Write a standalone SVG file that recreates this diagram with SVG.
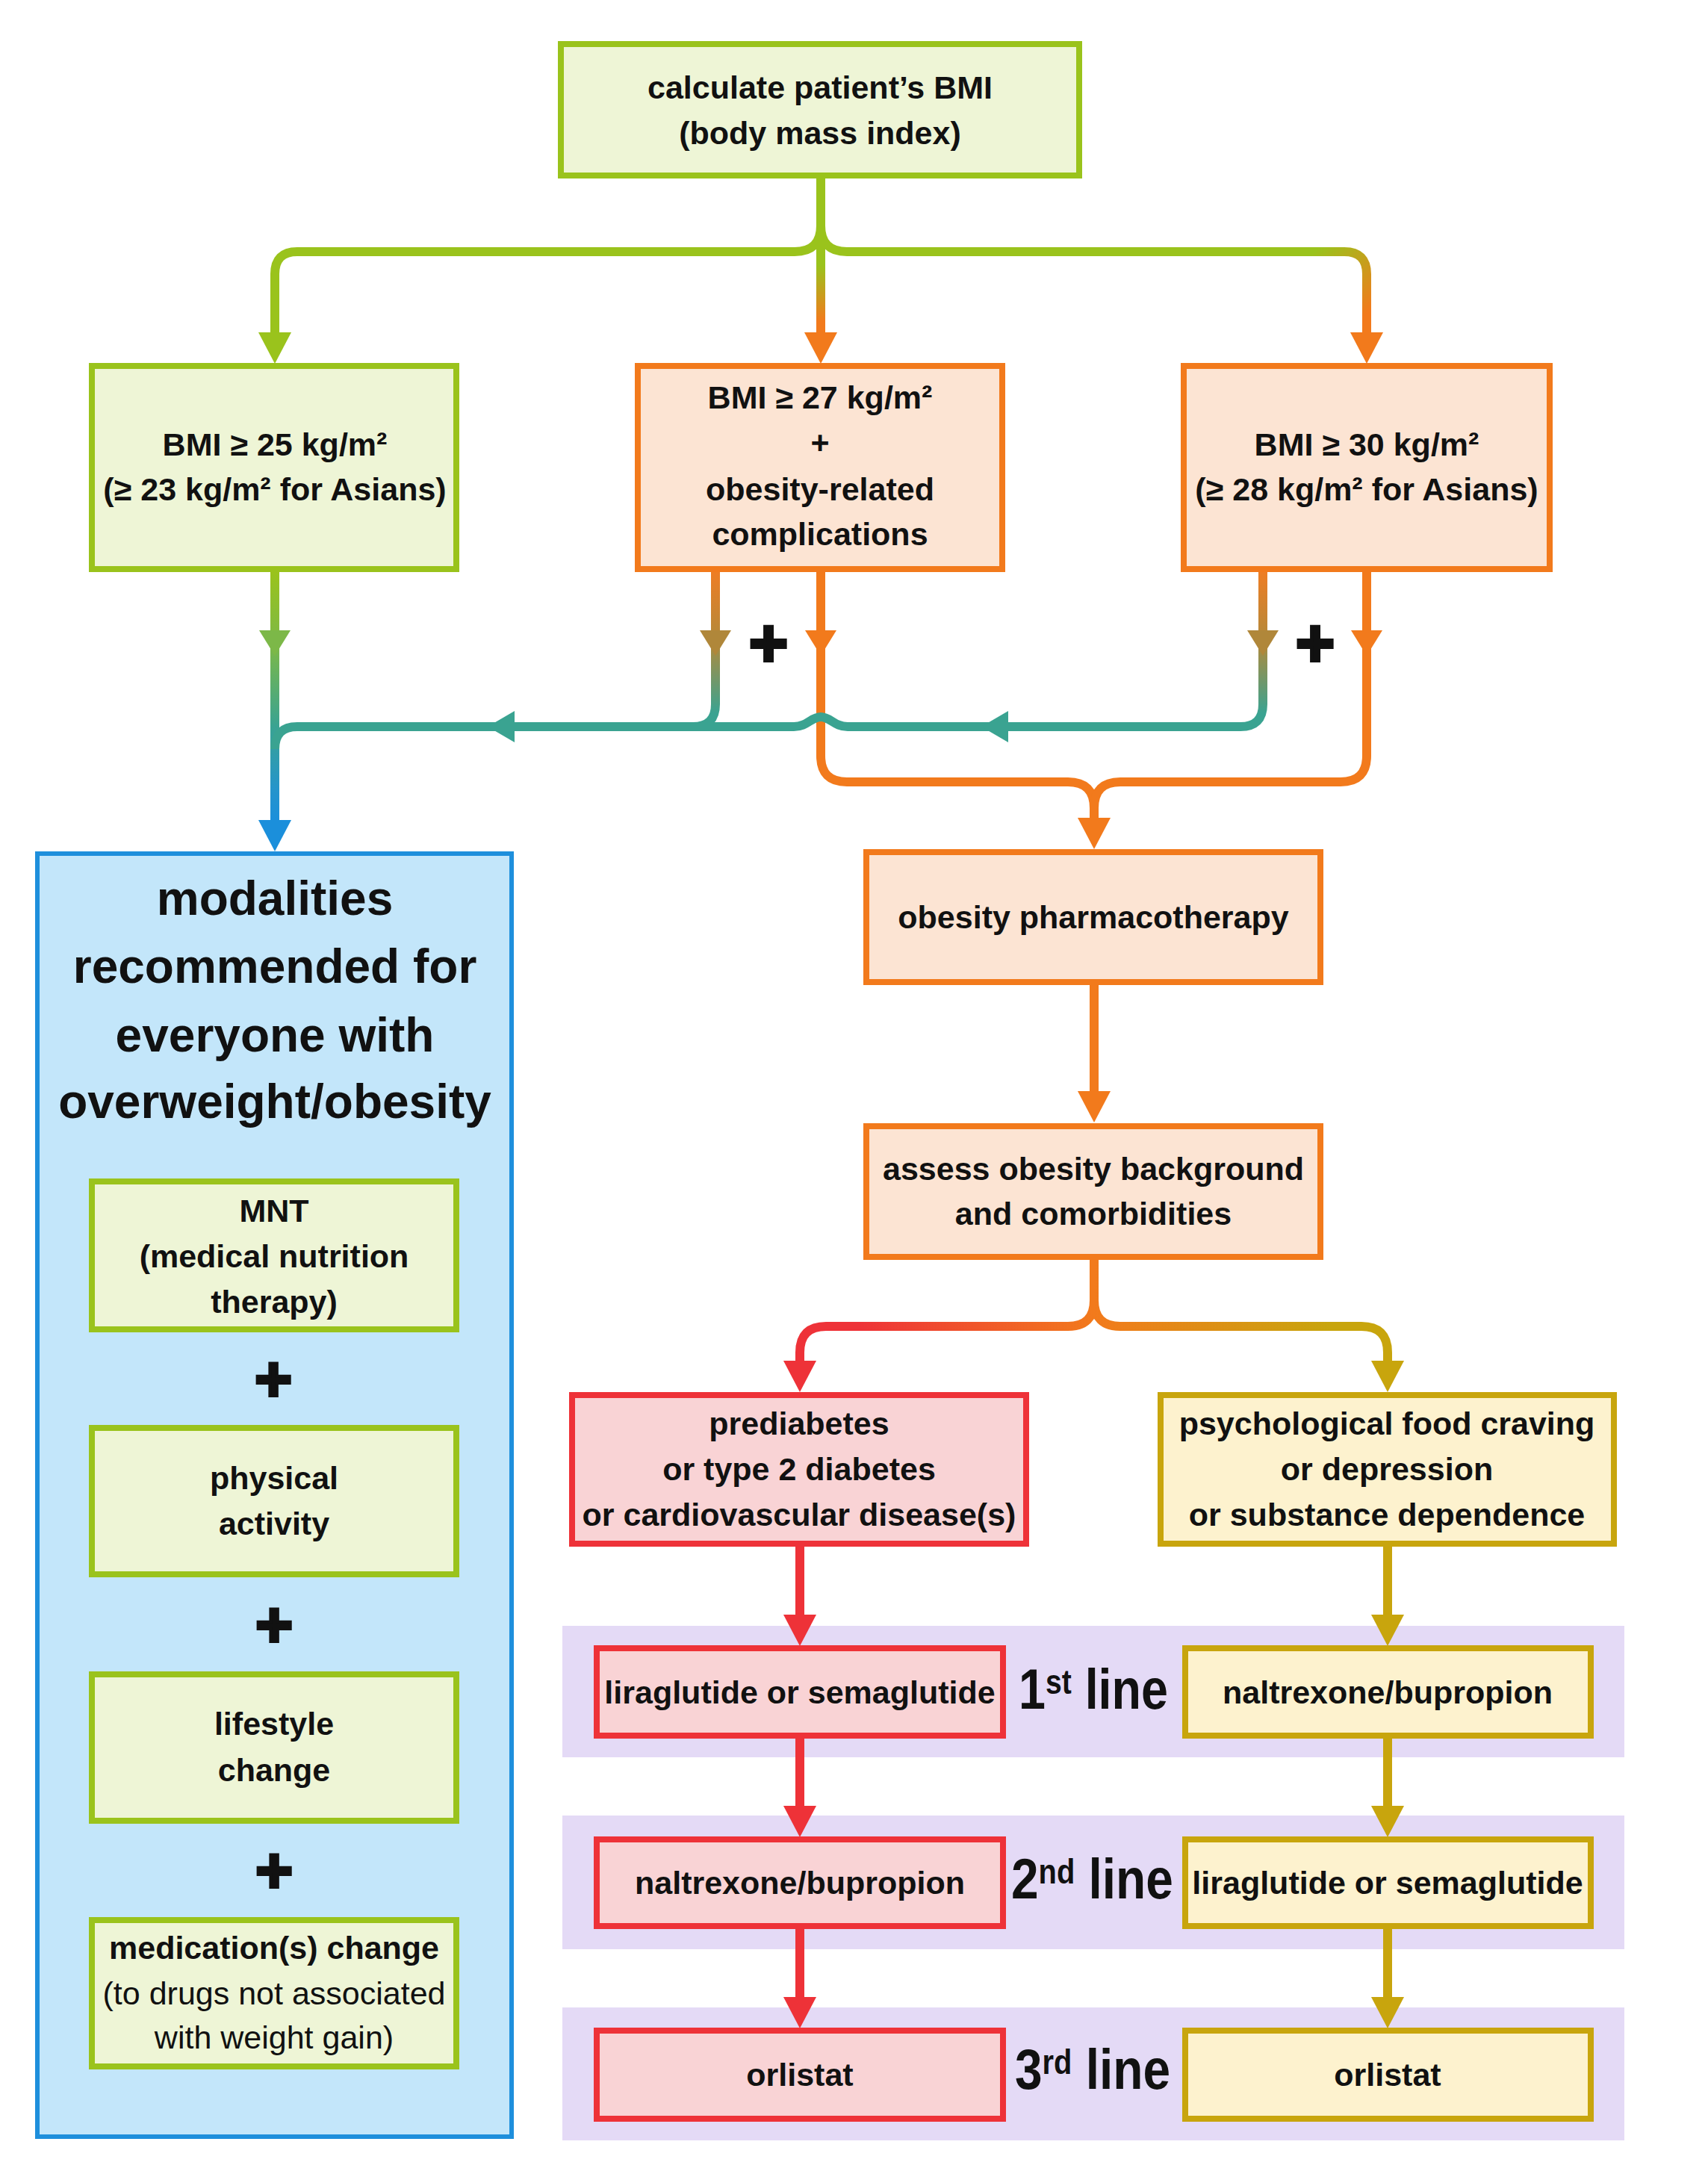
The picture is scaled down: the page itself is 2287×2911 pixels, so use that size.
<svg xmlns="http://www.w3.org/2000/svg" xmlns:xlink="http://www.w3.org/1999/xlink" width="2287" height="2911" viewBox="0 0 2287 2911">
<style>
.t{font-family:"Liberation Sans",Arial,sans-serif;font-weight:bold;font-size:43px;text-anchor:middle;fill:#111}
.r{font-weight:normal}
.title{font-size:64px}
.lbl{font-family:"Liberation Sans",Arial,sans-serif;font-weight:bold;font-size:76px;fill:#111}
.plus{font-family:"Liberation Sans",Arial,sans-serif;font-weight:bold;text-anchor:middle;fill:#111;stroke:#111;stroke-width:4}
.c{fill:none;stroke-width:12;stroke-linejoin:round}
.bx{stroke-width:8}
.g{fill:#EEF5D6;stroke:#9AC31C}
.o{fill:#FCE4D3;stroke:#F27A1C}
.rd{fill:#F9D3D5;stroke:#EE3238}
.y{fill:#FDF2CE;stroke:#C8A50D}
.band{fill:#E4DAF6}
</style>
<defs>
<path id="ahD" d="M-22,-42 L22,-42 L0,0 Z"/>
<path id="ahDs" d="M-21,-34 L21,-34 L0,0 Z"/>
<path id="ahL" d="M36,-21 L36,21 L0,0 Z"/>
<linearGradient id="gMid" gradientUnits="userSpaceOnUse" x1="0" y1="355" x2="0" y2="430"><stop offset="0" stop-color="#9AC31C"/><stop offset="1" stop-color="#F27A1C"/></linearGradient>
<linearGradient id="gRight" gradientUnits="userSpaceOnUse" x1="1760" y1="337" x2="1830" y2="420"><stop offset="0" stop-color="#9AC31C"/><stop offset="1" stop-color="#F27A1C"/></linearGradient>
<linearGradient id="gLeftCol" gradientUnits="userSpaceOnUse" x1="0" y1="766" x2="0" y2="1098"><stop offset="0" stop-color="#9AC31C"/><stop offset="0.3" stop-color="#7CB848"/><stop offset="0.62" stop-color="#3AA391"/><stop offset="0.88" stop-color="#2594CC"/><stop offset="1" stop-color="#1B8FDB"/></linearGradient>
<linearGradient id="gBrown" gradientUnits="userSpaceOnUse" x1="0" y1="766" x2="0" y2="955"><stop offset="0" stop-color="#EE7D24"/><stop offset="0.5" stop-color="#B08A3C"/><stop offset="1" stop-color="#3AA391"/></linearGradient>
<linearGradient id="gRed" gradientUnits="userSpaceOnUse" x1="1465" y1="0" x2="1150" y2="0"><stop offset="0" stop-color="#F27A1C"/><stop offset="1" stop-color="#EE3238"/></linearGradient>
<linearGradient id="gYel" gradientUnits="userSpaceOnUse" x1="1465" y1="0" x2="1780" y2="0"><stop offset="0" stop-color="#F27A1C"/><stop offset="1" stop-color="#C8A50D"/></linearGradient>
</defs>
<rect width="2287" height="2911" fill="#fff"/>

<g id="bands">
<rect class="band" x="753" y="2177" width="1422" height="176"/>
<rect class="band" x="753" y="2431" width="1422" height="179"/>
<rect class="band" x="753" y="2688" width="1422" height="178"/>
</g>

<g id="connectors">
<path class="c" stroke="#9AC31C" d="M1099 239 V302 Q1099 337 1064 337 H398 Q368 337 368 367 V445"/>
<path class="c" stroke="url(#gRight)" d="M1099 239 V302 Q1099 337 1134 337 H1800 Q1830 337 1830 367 V445"/>
<path class="c" stroke="url(#gMid)" d="M1099 239 V445"/>
<use xlink:href="#ahD" x="368" y="487" fill="#9AC31C"/>
<use xlink:href="#ahD" x="1099" y="487" fill="#F27A1C"/>
<use xlink:href="#ahD" x="1830" y="487" fill="#F27A1C"/>
<path class="c" stroke="url(#gLeftCol)" d="M368 766 V1100"/>
<use xlink:href="#ahDs" x="368" y="878" fill="#7CB848"/>
<use xlink:href="#ahD" x="368" y="1140" fill="#1B8FDB"/>
<path class="c" stroke="#F27A1C" d="M1099 766 V1012 Q1099 1047 1134 1047 H1430 Q1465 1047 1465 1082 V1098"/>
<path class="c" stroke="#F27A1C" d="M1830 766 V1012 Q1830 1047 1795 1047 H1500 Q1465 1047 1465 1082"/>
<use xlink:href="#ahDs" x="1099" y="878" fill="#F27A1C"/>
<use xlink:href="#ahDs" x="1830" y="878" fill="#F27A1C"/>
<use xlink:href="#ahD" x="1465" y="1137" fill="#F27A1C"/>
<path class="c" stroke="url(#gBrown)" d="M958 766 V943 Q958 973 928 973"/>
<path class="c" stroke="url(#gBrown)" d="M1691 766 V943 Q1691 973 1661 973 H1135 C1117 973 1112 960 1099 960 C1086 960 1081 973 1063 973 H398 Q368 973 368 1003"/>
<use xlink:href="#ahDs" x="958" y="878" fill="#B0873A"/>
<use xlink:href="#ahDs" x="1691" y="878" fill="#B0873A"/>
<use xlink:href="#ahL" x="653" y="973" fill="#3AA391"/>
<use xlink:href="#ahL" x="1314" y="973" fill="#3AA391"/>
<path class="c" stroke="#F27A1C" d="M1465 1319 V1464"/>
<use xlink:href="#ahD" x="1465" y="1503" fill="#F27A1C"/>
<path class="c" stroke="url(#gRed)" d="M1465 1687 V1741 Q1465 1776 1430 1776 H1106 Q1071 1776 1071 1811 V1826"/>
<path class="c" stroke="url(#gYel)" d="M1465 1687 V1741 Q1465 1776 1500 1776 H1823 Q1858 1776 1858 1811 V1826"/>
<use xlink:href="#ahD" x="1071" y="1864" fill="#EE3238"/>
<use xlink:href="#ahD" x="1858" y="1864" fill="#C8A50D"/>
<path class="c" stroke="#EE3238" d="M1071 2071 V2165 M1071 2328 V2421 M1071 2583 V2677"/>
<use xlink:href="#ahD" x="1071" y="2204" fill="#EE3238"/>
<use xlink:href="#ahD" x="1071" y="2460" fill="#EE3238"/>
<use xlink:href="#ahD" x="1071" y="2716" fill="#EE3238"/>
<path class="c" stroke="#C8A50D" d="M1858 2071 V2165 M1858 2328 V2421 M1858 2583 V2677"/>
<use xlink:href="#ahD" x="1858" y="2204" fill="#C8A50D"/>
<use xlink:href="#ahD" x="1858" y="2460" fill="#C8A50D"/>
<use xlink:href="#ahD" x="1858" y="2716" fill="#C8A50D"/>
<text class="plus" x="1029" y="892" font-size="90">+</text>
<text class="plus" x="1761" y="892" font-size="90">+</text>
</g>

<g id="n-bmi">
<rect class="bx g" x="751" y="59" width="694" height="176"/>
<text class="t" x="1098" y="132">calculate patient’s BMI</text>
<text class="t" x="1098" y="193">(body mass index)</text>
</g>

<g id="n-bmi25">
<rect class="bx g" x="123" y="490" width="488" height="272"/>
<text class="t" x="368" y="610">BMI ≥ 25 kg/m²</text>
<text class="t" x="368" y="670">(≥ 23 kg/m² for Asians)</text>
</g>

<g id="n-bmi27">
<rect class="bx o" x="854" y="490" width="488" height="272"/>
<text class="t" x="1098" y="547">BMI ≥ 27 kg/m²</text>
<text class="t" x="1098" y="607">+</text>
<text class="t" x="1098" y="670">obesity-related</text>
<text class="t" x="1098" y="730">complications</text>
</g>

<g id="n-bmi30">
<rect class="bx o" x="1585" y="490" width="490" height="272"/>
<text class="t" x="1830" y="610">BMI ≥ 30 kg/m²</text>
<text class="t" x="1830" y="670">(≥ 28 kg/m² for Asians)</text>
</g>

<g id="n-modalities">
<rect x="50" y="1143" width="635" height="1718" fill="#C3E6FA" stroke="#1E8FDC" stroke-width="6"/>
<text class="t title" x="368" y="1225">modalities</text>
<text class="t title" x="368" y="1316">recommended for</text>
<text class="t title" x="368" y="1408">everyone with</text>
<text class="t title" x="368" y="1497">overweight/obesity</text>
<text class="plus" x="366" y="1876" font-size="86">+</text>
<text class="plus" x="367" y="2205" font-size="86">+</text>
<text class="plus" x="367" y="2534" font-size="86">+</text>
</g>

<g id="n-mnt">
<rect class="bx g" x="123" y="1582" width="488" height="198"/>
<text class="t" x="367" y="1636">MNT</text>
<text class="t" x="367" y="1697">(medical nutrition</text>
<text class="t" x="367" y="1758">therapy)</text>
</g>

<g id="n-physical">
<rect class="bx g" x="123" y="1912" width="488" height="196"/>
<text class="t" x="367" y="1994">physical</text>
<text class="t" x="367" y="2055">activity</text>
</g>

<g id="n-lifestyle">
<rect class="bx g" x="123" y="2242" width="488" height="196"/>
<text class="t" x="367" y="2323">lifestyle</text>
<text class="t" x="367" y="2385">change</text>
</g>

<g id="n-medication">
<rect class="bx g" x="123" y="2571" width="488" height="196"/>
<text class="t" x="367" y="2623">medication(s) change</text>
<text class="t r" x="367" y="2684">(to drugs not associated</text>
<text class="t r" x="367" y="2743">with weight gain)</text>
</g>

<g id="n-pharma">
<rect class="bx o" x="1160" y="1141" width="608" height="174"/>
<text class="t" x="1464" y="1243">obesity pharmacotherapy</text>
</g>

<g id="n-assess">
<rect class="bx o" x="1160" y="1508" width="608" height="175"/>
<text class="t" x="1464" y="1580">assess obesity background</text>
<text class="t" x="1464" y="1640">and comorbidities</text>
</g>

<g id="n-diabetes">
<rect class="bx rd" x="766" y="1868" width="608" height="199"/>
<text class="t" x="1070" y="1921">prediabetes</text>
<text class="t" x="1070" y="1982">or type 2 diabetes</text>
<text class="t" x="1070" y="2043">or cardiovascular disease(s)</text>
</g>

<g id="n-psych">
<rect class="bx y" x="1554" y="1868" width="607" height="199"/>
<text class="t" x="1857" y="1921">psychological food craving</text>
<text class="t" x="1857" y="1982">or depression</text>
<text class="t" x="1857" y="2043">or substance dependence</text>
</g>

<g id="n-red1">
<rect class="bx rd" x="799" y="2207" width="544" height="117"/>
<text class="t" x="1071" y="2281">liraglutide or semaglutide</text>
</g>
<g id="n-red2">
<rect class="bx rd" x="799" y="2463" width="544" height="116"/>
<text class="t" x="1071" y="2536">naltrexone/bupropion</text>
</g>
<g id="n-red3">
<rect class="bx rd" x="799" y="2719" width="544" height="118"/>
<text class="t" x="1071" y="2793">orlistat</text>
</g>

<g id="n-yel1">
<rect class="bx y" x="1587" y="2207" width="543" height="117"/>
<text class="t" x="1858" y="2281">naltrexone/bupropion</text>
</g>
<g id="n-yel2">
<rect class="bx y" x="1587" y="2463" width="543" height="116"/>
<text class="t" x="1858" y="2536">liraglutide or semaglutide</text>
</g>
<g id="n-yel3">
<rect class="bx y" x="1587" y="2719" width="543" height="118"/>
<text class="t" x="1858" y="2793">orlistat</text>
</g>

<g id="line-labels">
<text class="lbl" transform="translate(1364,2288) scale(0.85,1)">1<tspan font-size="46" dy="-20">st</tspan><tspan dy="20"> line</tspan></text>
<text class="lbl" transform="translate(1354,2542) scale(0.866,1)">2<tspan font-size="46" dy="-20">nd</tspan><tspan dy="20"> line</tspan></text>
<text class="lbl" transform="translate(1359,2797) scale(0.866,1)">3<tspan font-size="46" dy="-20">rd</tspan><tspan dy="20"> line</tspan></text>
</g>
</svg>
